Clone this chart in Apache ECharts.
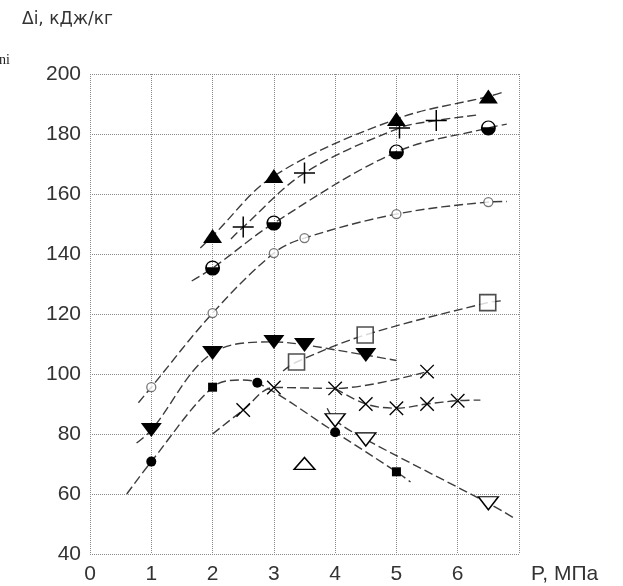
<!DOCTYPE html>
<html>
<head>
<meta charset="utf-8">
<script src="https://cdn.jsdelivr.net/npm/echarts@6/dist/echarts.min.js"></script>
<style>
html, body { margin: 0; padding: 0; background: #fff; }
#chart { width: 623px; height: 586px; }
</style>
</head>
<body>
<div id="chart"></div>
<script>
// dashed curves as [P, di]
var curveTriUp = [[1.8, 142], [2, 146], [3, 166], [5, 185], [6.5, 192.5], [6.75, 194]];
var curvePlus = [[2.3, 145], [2.5, 149], [3.5, 167], [5.05, 182], [5.65, 184.5], [6.3, 186.3]];
var curveHalf = [[1.66, 131], [2, 135.3], [3, 150.3], [5, 174], [6.5, 182], [6.8, 183.3]];
var curveCircle = [[0.79, 90.4], [1, 95.6], [2, 120.3], [3, 140.3], [3.5, 145.3], [5, 153.3], [6.5, 157.3], [6.8, 157.5]];
var curveTriDown = [[0.76, 77], [1, 81.3], [2, 107], [3, 110.7], [3.5, 109.7], [4.5, 106.3], [5, 104.5]];
var curveSquare = [[3.15, 101], [3.37, 104], [4.49, 113], [6.49, 123.8], [6.73, 124.4]];
var curveDot = [[0.6, 60], [1, 70.8], [2, 95.6], [2.45, 98], [2.73, 97.1], [4, 80.6], [5, 67.4], [5.23, 64]];
var curveCrossA = [[2, 80], [2.5, 88], [3, 95.5], [4, 95.2], [5.5, 100.8]];
var curveCrossB = [[4, 95.2], [4.5, 90], [5, 88.6], [5.5, 90], [6, 91.1], [6.37, 91.3]];
var curveTriOpen = [[3.87, 88.6], [4, 84.6], [4.5, 78.2], [6.5, 56.9], [6.92, 52]];
var curves = [curveTriUp, curvePlus, curveHalf, curveCircle, curveTriDown, curveSquare,
              curveDot, curveCrossA, curveCrossB, curveTriOpen];

// measured points
var ptsTriUp = [[2, 146], [3, 166], [5, 185], [6.5, 192.5]];
var ptsPlus = [[2.5, 149], [3.5, 167], [5.05, 182], [5.65, 184.5]];
var ptsHalf = [[2, 135.3], [3, 150.3], [5, 174], [6.5, 182]];
var ptsCircle = [[1, 95.6], [2, 120.3], [3, 140.3], [3.5, 145.3], [5, 153.3], [6.5, 157.3]];
var ptsTriDown = [[1, 81.3], [2, 107], [3, 110.7], [3.5, 109.7], [4.5, 106.3]];
var ptsSquare = [[3.37, 104], [4.49, 113], [6.49, 123.8]];
var ptsDot = [[1, 70.8], [2.73, 97.1], [4, 80.6]];
var ptsDotSq = [[2, 95.6], [5, 67.4]];
var ptsCross = [[2.5, 88], [3, 95.5], [4, 95.2], [4.5, 90], [5, 88.6], [5.5, 100.8], [5.5, 90], [6, 91.1]];
var ptsTriOpen = [[4, 84.6], [4.5, 78.2], [6.5, 56.9]];
var ptsTriOpenUp = [[3.5, 70.2]];

var xTicks = [0, 1, 2, 3, 4, 5, 6];

var myChart = echarts.init(document.getElementById('chart'));

var plusPath = 'path://M9.3,0h1.4v20h-1.4zM0,9.3h20v1.4h-20z';
// ring with the lower half filled
var halfPath = 'path://M0,10A10,10 0 1 1 20,10A10,10 0 1 1 0,10ZM17.6,9A7.6,7.6 0 0 0 2.4,9Z';

var series = [];
curves.forEach(function (c) {
    series.push({
        type: 'line',
        data: c,
        smooth: 0.35,
        symbol: 'none',
        silent: true,
        lineStyle: { color: '#3c3c3c', width: 1.4, type: [9, 4] },
        z: 2
    });
});

function pts(data, symbol, size, fill, extra) {
    var s = {
        type: 'scatter',
        data: data,
        symbol: symbol,
        symbolSize: size,
        itemStyle: { color: fill, borderColor: '#000', borderWidth: fill === '#fff' ? 1.4 : 0, opacity: 1 },
        z: 5
    };
    for (var k in extra) s[k] = extra[k];
    return s;
}

series.push(pts(ptsTriUp, 'triangle', [19, 14], '#000'));
series.push(pts(ptsPlus, plusPath, 21, '#000'));
series.push(pts(ptsHalf, halfPath, 15, '#000'));
series.push(pts(ptsCircle, 'circle', 9, '#fff', { itemStyle: { color: '#fff', borderColor: '#555', borderWidth: 1.3 } }));
series.push(pts(ptsTriDown, 'triangle', [21, 14], '#000', { symbolRotate: 180 }));
series.push(pts(ptsSquare, 'rect', 16, '#fff', { itemStyle: { color: '#fff', borderColor: '#222', borderWidth: 1.6 } }));
series.push(pts(ptsDot, 'circle', 10, '#000'));
series.push(pts(ptsDotSq, 'rect', 9, '#000'));
series.push(pts(ptsCross, plusPath, 19, '#000', { symbolRotate: 45 }));
series.push(pts(ptsTriOpen, 'triangle', [20, 13], '#fff', { symbolRotate: 180 }));
series.push(pts(ptsTriOpenUp, 'triangle', [21, 12], '#fff'));

var gridLine = { lineStyle: { color: '#888', width: 1, type: 'dotted' } };

option = {
    animation: false,
    backgroundColor: '#fff',
    grid: { left: 90, top: 74, right: 104, bottom: 32 },
    xAxis: {
        type: 'value',
        min: 0,
        max: 7,
        interval: 1,
        name: 'P, МПа',
        nameLocation: 'end',
        nameGap: 12,
        nameTextStyle: { color: '#333', fontSize: 21, fontFamily: 'Liberation Sans', verticalAlign: 'top', padding: [10, 0, 0, 0] },
        axisLine: { show: false },
        axisTick: { show: false },
        axisLabel: {
            color: '#333', fontSize: 21, fontFamily: 'Liberation Sans', margin: 10,
            formatter: function (v) { return xTicks.indexOf(v) >= 0 ? String(v) : ''; }
        },
        splitLine: gridLine
    },
    yAxis: {
        type: 'value',
        min: 40,
        max: 200,
        interval: 20,
        axisLine: { show: false },
        axisTick: { show: false },
        axisLabel: { color: '#333', fontSize: 21, fontFamily: 'Liberation Sans', margin: 9 },
        splitLine: gridLine
    },
    graphic: [
        { type: 'text', left: 22, top: 11, style: { text: 'Δi, кДж/кг', fill: '#333', font: '17px "DejaVu Sans"' } },
        { type: 'text', left: -1, top: 53, style: { text: 'ni', fill: '#222', font: '14px "Liberation Serif"' } }
    ],
    series: series
};
myChart.setOption(option);
</script>
</body>
</html>
